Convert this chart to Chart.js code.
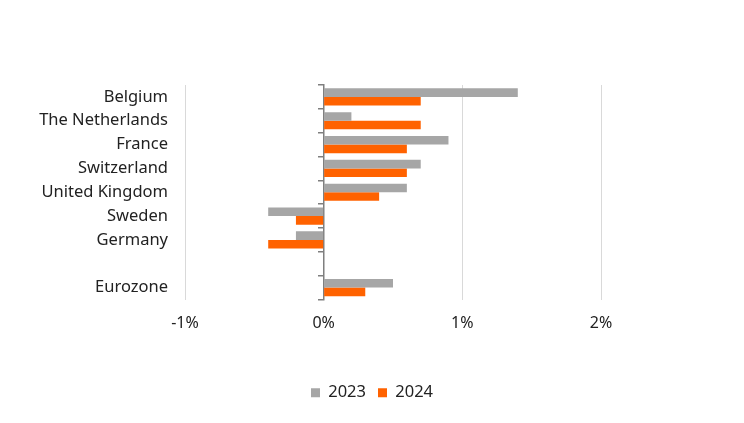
<!DOCTYPE html>
<html>
<head>
<meta charset="utf-8">
<script src="https://cdn.jsdelivr.net/npm/chart.js@4"></script>
<style>
  html, body { margin: 0; padding: 0; background: #fff; }
  #wrap { width: 744px; height: 423px; }
</style>
</head>
<body>
<div id="wrap"><canvas id="growth-chart" width="744" height="423"></canvas></div>
<script>
// Countries (blank row separates Eurozone)
const categories = ['Belgium', 'The Netherlands', 'France', 'Switzerland', 'United Kingdom', 'Sweden', 'Germany', '', 'Eurozone'];
const values2023 = [1.4, 0.2, 0.9, 0.7, 0.6, -0.4, -0.2, null, 0.5];
const values2024 = [0.7, 0.7, 0.6, 0.6, 0.4, -0.2, -0.4, null, 0.3];
const xTicks = [-1, 0, 1, 2];

const fontFamily = "'Noto Sans', sans-serif";
Chart.defaults.font.family = fontFamily;
Chart.defaults.color = '#222';

const ctx = document.getElementById('growth-chart').getContext('2d');
const growthChart = new Chart(ctx, {
    type: 'bar',
    data: {
        labels: categories,
        datasets: [
            {
                label: '2023',
                data: values2023,
                backgroundColor: '#a6a6a6',
                categoryPercentage: 0.72,
                barPercentage: 1.0
            },
            {
                label: '2024',
                data: values2024,
                backgroundColor: '#ff6200',
                categoryPercentage: 0.72,
                barPercentage: 1.0
            }
        ]
    },
    options: {
        indexAxis: 'y',
        responsive: false,
        animation: false,
        layout: { padding: { left: 0, right: 0, top: 85, bottom: 12 } },
        scales: {
            x: {
                min: -1,
                max: 2,
                afterBuildTicks: scale => {
                    scale.ticks = xTicks.map(v => ({ value: v }));
                },
                afterFit: scale => { scale.height = 73; },
                ticks: {
                    padding: 14,
                    font: { size: 16 },
                    color: '#222',
                    callback: v => v + '%'
                },
                grid: {
                    drawTicks: false,
                    color: c => (c.tick && c.tick.value === 0) ? 'rgba(0,0,0,0)' : '#d9d9d9',
                    lineWidth: 1
                },
                border: { display: false }
            },
            y: {
                afterFit: scale => { scale.width = 185; },
                ticks: {
                    padding: 17,
                    font: { size: 16.5 },
                    color: '#222'
                },
                grid: { display: false, drawTicks: false },
                border: { display: false }
            },
            // empty right-hand axis keeps the plot narrow while the legend stays centred on the canvas
            yRight: {
                type: 'category',
                labels: categories,
                position: 'right',
                afterFit: scale => { scale.width = 143; },
                ticks: { display: false },
                grid: { display: false, drawTicks: false },
                border: { display: false }
            },
            y2: {
                type: 'category',
                labels: categories,
                position: { x: 0 },
                offset: true,
                ticks: { display: false },
                grid: {
                    offset: true,
                    drawOnChartArea: false,
                    drawTicks: true,
                    tickLength: 5,
                    color: '#7f7f7f',
                    lineWidth: 1.5
                },
                border: { display: true, color: '#7f7f7f', width: 1.5 }
            }
        },
        plugins: {
            legend: {
                position: 'bottom',
                labels: {
                    boxWidth: 9,
                    boxHeight: 9,
                    padding: 12,
                    font: { size: 16.5 },
                    color: '#222'
                }
            },
            tooltip: { enabled: false }
        }
    }
});
</script>
</body>
</html>
